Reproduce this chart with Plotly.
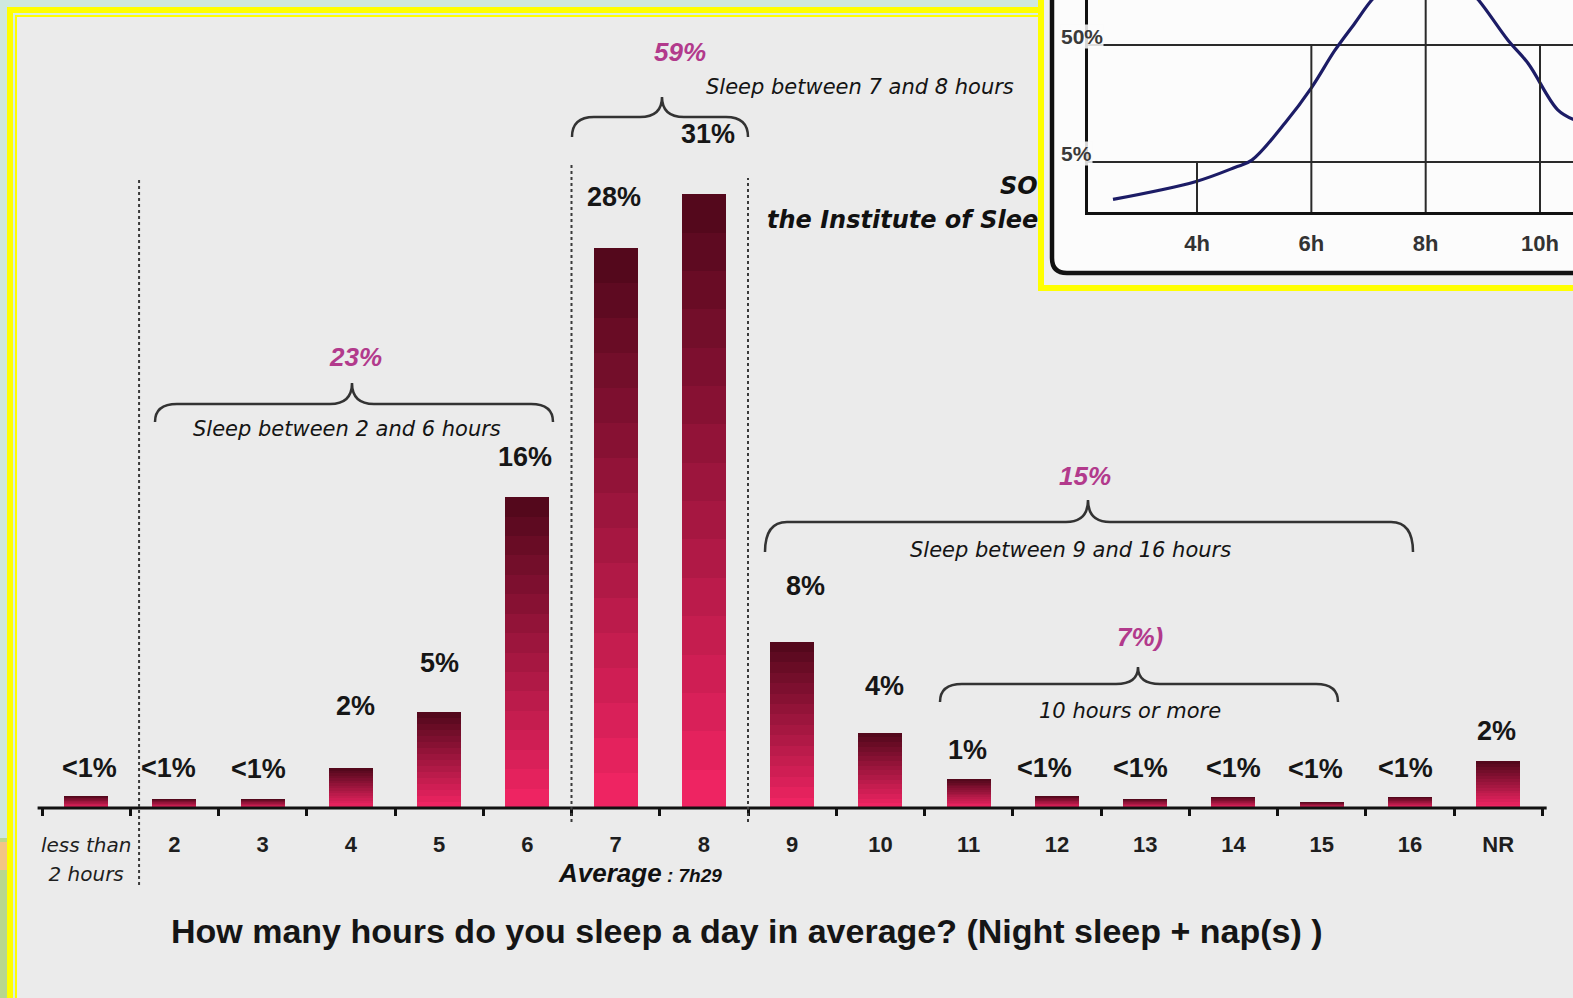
import math
import plotly.graph_objects as go

W, H = 1573, 998

# ---------------- data ----------------
categories = ["less than 2 hours", "2", "3", "4", "5", "6", "7", "8", "9",
              "10", "11", "12", "13", "14", "15", "16", "NR"]
shares = [0.6, 0.45, 0.45, 2.0, 4.85, 15.7, 28.3, 31.0, 8.4,
          3.8, 1.45, 0.6, 0.45, 0.55, 0.3, 0.55, 2.35]
share_labels = ["<1%", "<1%", "<1%", "2%", "5%", "16%", "28%", "31%", "8%",
                "4%", "1%", "<1%", "<1%", "<1%", "<1%", "<1%", "2%"]

group_totals = ["23%", "59%", "15%", "7%)"]
group_texts = ["Sleep between 2 and 6 hours", "Sleep between 7 and 8 hours",
               "Sleep between 9 and 16 hours", "10 hours or more"]
average_word = "Average"
average_value = "7h29"
question = "How many hours do you sleep a day in average? (Night sleep + nap(s) )"
source_lines = ["SO", "the Institute of Slee"]

inset_hours = [2.53, 3.97, 4.66, 4.96, 5.54, 6.01, 6.41, 6.76, 7.06, 7.5, 8.0,
               8.5, 8.92, 9.44, 9.79, 10.31, 10.6]
inset_share = [2.4, 3.4, 4.5, 5.2, 10.8, 21.9, 45, 77, 122, 200, 250,
               200, 122, 55, 35, 14, 11.5]
inset_xticks = [4, 6, 8, 10]
inset_xlabels = ["4h", "6h", "8h", "10h"]
inset_yticks = [5, 50]
inset_ylabels = ["5%", "50%"]

# ---------------- geometry helpers ----------------
def PX(x):
    return x / W

def PY(y):
    return 1 - y / H

CAT_PX = 88.25           # px per category
X_LEFT_BOUND = 42        # px of left boundary of first category
xlo = -0.5 - X_LEFT_BOUND / CAT_PX
xhi = xlo + W / CAT_PX
PCT_PX = 19.8            # px per percent
BASE_PY = 808
yhi = BASE_PY / PCT_PX
ylo = -(H - BASE_PY) / PCT_PX
axis_pos = -ylo / (yhi - ylo)

fig = go.Figure()

# ---------------- gradient bars (overlayed layers) ----------------
N = 16
top_rgb = (84, 8, 28)
bot_rgb = (238, 36, 98)
for k in range(N):
    t = k / (N - 1)
    c = tuple(int(round(top_rgb[j] + (bot_rgb[j] - top_rgb[j]) * t)) for j in range(3))
    frac = (N - k) / N
    fig.add_trace(go.Bar(
        x=categories, y=[v * frac for v in shares],
        marker=dict(color="rgb(%d,%d,%d)" % c, line=dict(width=0)),
        width=0.5, hoverinfo="skip", showlegend=False,
        xaxis="x", yaxis="y"))

# ---------------- inset curve ----------------
fig.add_trace(go.Scatter(
    x=inset_hours, y=inset_share, mode="lines",
    line=dict(color="#1c1c66", width=3.2, shape="spline", smoothing=1.0),
    xaxis="x2", yaxis="y2", hoverinfo="skip", showlegend=False))

shapes = []
# page frame (teal strips and yellow borders)
shapes += [
    dict(type="rect", xref="paper", yref="paper", x0=PX(0), x1=PX(1040), y0=PY(0), y1=PY(7),
         fillcolor="#cfe8df", line_width=0, layer="below"),
    dict(type="rect", xref="paper", yref="paper", x0=PX(0), x1=PX(7), y0=PY(0), y1=PY(998),
         fillcolor="#cfe8df", line_width=0, layer="below"),
    dict(type="rect", xref="paper", yref="paper", x0=PX(0), x1=PX(7), y0=PY(838), y1=PY(998),
         fillcolor="#b8d78e", line_width=0, layer="below"),
    dict(type="rect", xref="paper", yref="paper", x0=PX(0), x1=PX(7), y0=PY(842), y1=PY(870),
         fillcolor="#f2c585", line_width=0, layer="below"),
    dict(type="rect", xref="paper", yref="paper", x0=PX(7), x1=PX(1040), y0=PY(7), y1=PY(13),
         fillcolor="#ffff00", line_width=0, layer="below"),
    dict(type="rect", xref="paper", yref="paper", x0=PX(7), x1=PX(13), y0=PY(7), y1=PY(998),
         fillcolor="#ffff00", line_width=0, layer="below"),
    dict(type="rect", xref="paper", yref="paper", x0=PX(13), x1=PX(1040), y0=PY(13), y1=PY(15),
         fillcolor="#d6ece5", line_width=0, layer="below"),
    dict(type="rect", xref="paper", yref="paper", x0=PX(13), x1=PX(15), y0=PY(13), y1=PY(998),
         fillcolor="#d6ece5", line_width=0, layer="below"),
    dict(type="rect", xref="paper", yref="paper", x0=PX(15), x1=PX(1040), y0=PY(15), y1=PY(17),
         fillcolor="#ffff00", line_width=0, layer="below"),
    dict(type="rect", xref="paper", yref="paper", x0=PX(15), x1=PX(17), y0=PY(15), y1=PY(998),
         fillcolor="#ffff00", line_width=0, layer="below"),
]
# inset panel
shapes += [
    dict(type="rect", xref="paper", yref="paper", x0=PX(1038), x1=PX(1580), y0=PY(-5), y1=PY(291),
         fillcolor="#ffff00", line_width=0, layer="below"),
    dict(type="rect", xref="paper", yref="paper", x0=PX(1044), x1=PX(1580), y0=PY(-5), y1=PY(285),
         fillcolor="#efefef", line_width=0, layer="below"),
    dict(type="rect", xref="paper", yref="paper", x0=PX(1054), x1=PX(1580), y0=PY(-5), y1=PY(271),
         fillcolor="#fcfcfc", line_width=0, layer="below"),
    dict(type="path", xref="paper", yref="paper", layer="below",
         path="M %f,%f L %f,%f Q %f,%f %f,%f L %f,%f" % (
             PX(1052), PY(-5), PX(1052), PY(258), PX(1052), PY(273), PX(1067), PY(273),
             PX(1580), PY(273)),
         line=dict(color="#111111", width=4.5)),
]

# partial vertical gridlines in inset
y2lo, y2hi = 0.2726, 2.0846
for xv, ytop in [(4, 5), (6, 50), (8, 10 ** y2hi), (10, 50)]:
    shapes.append(dict(type="line", xref="x2", yref="y2", x0=xv, x1=xv,
                       y0=10 ** y2lo, y1=ytop, line=dict(color="#2a2a2a", width=2), layer="above"))

# main x axis line
shapes.append(dict(type="line", xref="x", yref="y", x0=-0.55, x1=16.55, y0=0, y1=0,
                   line=dict(color="#111111", width=3), layer="above"))

# dashed separators
for xv, ytop, ybot in [(0.6, 178, 885), (5.5, 165, 822), (7.5, 178, 822)]:
    shapes.append(dict(type="line", xref="x", yref="paper", x0=xv, x1=xv,
                       y0=PY(ybot), y1=PY(ytop),
                       line=dict(color="#3a3a3a", width=2, dash="3px,3px"), layer="above"))

# curly braces
def brace(x0, x1, ymid, yend, xtip, ytip, c=22):
    pts = [
        ("M", [(x0, yend)]),
        ("Q", [(x0, ymid), (x0 + c, ymid)]),
        ("L", [(xtip - c, ymid)]),
        ("Q", [(xtip, ymid), (xtip, ytip)]),
        ("Q", [(xtip, ymid), (xtip + c, ymid)]),
        ("L", [(x1 - c, ymid)]),
        ("Q", [(x1, ymid), (x1, yend)]),
    ]
    s = ""
    for cmd, ps in pts:
        s += cmd + " " + " ".join("%f,%f" % (PX(a), PY(b)) for a, b in ps) + " "
    return dict(type="path", xref="paper", yref="paper", path=s.strip(),
                line=dict(color="#333333", width=2.5), layer="above")

braces = [(155, 553, 404, 422, 352, 383),
          (572, 748, 117, 137, 662, 97),
          (765, 1413, 522, 552, 1088, 500),
          (940, 1338, 684, 702, 1138, 667)]
for b in braces:
    shapes.append(brace(*b))

# ---------------- annotations ----------------
ann = []
label_lift = [28, 31, 30, 62, 49, 40, 51, 60, 56, 47, 29, 28, 31, 29, 33, 29, 30]
label_dx = [3, -6, -4, 5, 0, -2, -2, 4, 13, 4, -1, -12, -5, 0, -6, -4, -2]
for i, (v, t) in enumerate(zip(shares, share_labels)):
    ann.append(dict(x=i, y=v, xref="x", yref="y", text="<b>%s</b>" % t, showarrow=False,
                    yanchor="middle", xanchor="center", yshift=label_lift[i], xshift=label_dx[i],
                    font=dict(family="Liberation Sans, Arial", size=27, color="#161616")))

total_pos = [(355, 357), (680, 52), (1085, 476), (1140, 637)]
text_pos = [(347, 429), (860, 87), (1070, 550), (1130, 711)]
for t, (x, y) in zip(group_totals, total_pos):
    ann.append(dict(x=PX(x), y=PY(y), xref="paper", yref="paper", showarrow=False,
                    xanchor="center", yanchor="middle",
                    text="<b><i>%s</i></b>" % t,
                    font=dict(family="Liberation Sans, Arial", size=26, color="#b23a8c")))
for t, (x, y) in zip(group_texts, text_pos):
    ann.append(dict(x=PX(x), y=PY(y), xref="paper", yref="paper", showarrow=False,
                    xanchor="center", yanchor="middle",
                    text="<i>%s</i>" % t,
                    font=dict(family="DejaVu Sans", size=21, color="#141414")))

ann.append(dict(x=PX(640), y=PY(873), xref="paper", yref="paper", showarrow=False,
                xanchor="center", yanchor="middle",
                text="<b><i>%s</i></b><span style='font-size:19px'><b><i> : %s</i></b></span>"
                     % (average_word, average_value),
                font=dict(family="Liberation Sans, Arial", size=26, color="#111111")))
ann.append(dict(x=PX(747), y=PY(931), xref="paper", yref="paper", showarrow=False,
                xanchor="center", yanchor="middle",
                text="<b>%s</b>" % question,
                font=dict(family="Liberation Sans, Arial", size=34, color="#151515")))
ann.append(dict(x=PX(1040), y=PY(186), xref="paper", yref="paper", showarrow=False,
                xanchor="right", yanchor="middle", text="<b><i>%s</i></b>" % source_lines[0],
                font=dict(family="DejaVu Sans", size=24, color="#111111")))
ann.append(dict(x=PX(1040), y=PY(220), xref="paper", yref="paper", showarrow=False,
                xanchor="right", yanchor="middle", text="<b><i>%s</i></b>" % source_lines[1],
                font=dict(family="DejaVu Sans", size=24, color="#111111")))

# inset y tick labels (drawn over the axis line, as in the original)
for v, t in zip(inset_yticks, inset_ylabels):
    ann.append(dict(x=PX(1060), y=math.log10(v), xref="paper", yref="y2", showarrow=False,
                    xanchor="left", yanchor="bottom", yshift=-4, text="<b>%s</b>" % t,
                    bgcolor="rgba(252,252,252,0.85)", borderpad=0,
                    font=dict(family="Liberation Sans, Arial", size=21, color="#3a3a3a")))

# ---------------- tick text ----------------
ticktext = []
for c in categories:
    if c.startswith("less"):
        ticktext.append("<span style='font-family:DejaVu Sans;font-size:20px'><i>less than<br>2 hours</i></span>")
    else:
        ticktext.append("<b>%s</b>" % c)

fig.update_layout(
    width=W, height=H, autosize=False,
    margin=dict(l=0, r=0, t=0, b=0, pad=0),
    paper_bgcolor="#ebebeb", plot_bgcolor="rgba(0,0,0,0)",
    barmode="overlay", bargap=0, showlegend=False,
    xaxis=dict(type="category", domain=[0, 1], range=[xlo, xhi], anchor="free",
               position=axis_pos, showline=False, showgrid=False, zeroline=False,
               tickmode="array", tickvals=categories, ticktext=ticktext, tickangle=0,
               tickson="boundaries", ticks="outside", ticklen=7, tickwidth=2.5,
               tickcolor="#111111", ticklabelstandoff=21,
               tickfont=dict(family="Liberation Sans, Arial", size=22, color="#1e1e1e"),
               fixedrange=True),
    yaxis=dict(domain=[0, 1], range=[ylo, yhi], visible=False, fixedrange=True),
    xaxis2=dict(domain=[PX(1088), 1], range=[2.093, 10.577], anchor="y2",
                showline=True, linecolor="#111111", linewidth=3, showgrid=False,
                zeroline=False, tickmode="array", tickvals=inset_xticks,
                ticktext=["<b>%s</b>" % t for t in inset_xlabels], ticks="", tickangle=0,
                ticklabelstandoff=10,
                tickfont=dict(family="Liberation Sans, Arial", size=22, color="#333333"),
                fixedrange=True),
    yaxis2=dict(domain=[PY(212), 1], type="log", range=[y2lo, y2hi], anchor="x2",
                showline=True, linecolor="#111111", linewidth=3, showgrid=True,
                gridcolor="#2a2a2a", gridwidth=2, zeroline=False, tickmode="array",
                tickvals=inset_yticks, showticklabels=False, ticks="",
                fixedrange=True),
    shapes=shapes, annotations=ann,
)

fig.write_html("out.html", config={"displayModeBar": False},
               post_script="document.body.style.margin='0';document.body.style.padding='0';")
